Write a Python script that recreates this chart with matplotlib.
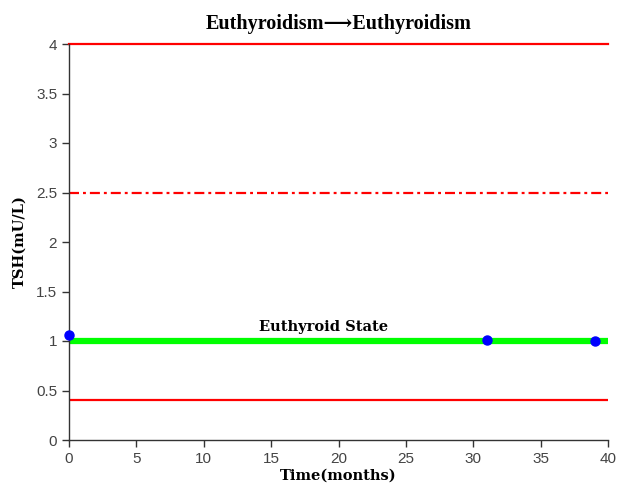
import matplotlib
matplotlib.use("Agg")
import matplotlib.pyplot as plt

# TSH measurements over time
months = [0, 31, 39]
tsh = [1.06, 1.01, 1.0]

# reference levels
upper_limit = 4.0
upper_optimal = 2.5
lower_limit = 0.4
state_level = 1.0
state_label = "Euthyroid State"

x_ticks = [0, 5, 10, 15, 20, 25, 30, 35, 40]
y_ticks = [0, 0.5, 1, 1.5, 2, 2.5, 3, 3.5, 4]
y_tick_labels = ["0", "0.5", "1", "1.5", "2", "2.5", "3", "3.5", "4"]

fig = plt.figure(figsize=(6.18, 4.91), dpi=100)
ax = fig.add_axes([69 / 618, 51 / 491, 539 / 618, 396 / 491])

ax.axhline(upper_limit, color="#ff0000", lw=1.6, zorder=2, clip_on=False)
ax.axhline(upper_optimal, color="#ff0000", lw=1.6, ls=(0, (4.5, 1.8, 1.3, 1.8)), zorder=2)
ax.axhline(lower_limit, color="#ff0000", lw=1.6, zorder=2)
ax.axhline(state_level, color="#00ff00", lw=4.5, zorder=2)
ax.plot(months, tsh, "o", color="#0000ff", ms=6.5, zorder=4, clip_on=False)

ax.text(18.9, state_level + 0.1, state_label, ha="center", va="baseline",
        family="DejaVu Serif", fontweight="bold", fontsize=10.5)

ax.set_xlim(0, 40)
ax.set_ylim(0, 4)
ax.set_xticks(x_ticks)
ax.set_xticklabels([str(t) for t in x_ticks])
ax.set_yticks(y_ticks)
ax.set_yticklabels(y_tick_labels)

for side in ("top", "right"):
    ax.spines[side].set_visible(False)
for side in ("left", "bottom"):
    ax.spines[side].set_color("#333333")
    ax.spines[side].set_linewidth(1.0)

ax.tick_params(direction="out", length=5, width=1, color="#333333",
               labelcolor="#444444", labelsize=11)
for lab in ax.get_xticklabels() + ax.get_yticklabels():
    lab.set_family("Liberation Sans")

ax.set_xlabel("Time(months)", family="DejaVu Serif", fontweight="bold",
              fontsize=10.5, labelpad=2)
ax.set_ylabel("TSH(mU/L)", family="DejaVu Serif", fontweight="bold",
              fontsize=10.5, labelpad=7)
ax.set_title("Euthyroidism\u27f6Euthyroidism",
             family=["Liberation Serif", "DejaVu Serif"], fontweight="bold",
             fontsize=14.5, pad=11)

fig.savefig("out.png", dpi=100)
